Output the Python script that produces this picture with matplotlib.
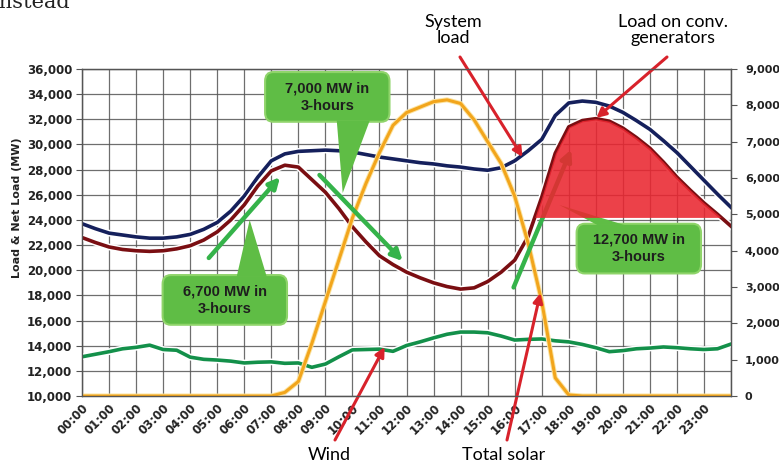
import numpy as np
import matplotlib.pyplot as plt
import matplotlib.patheffects as pe
from matplotlib.patches import FancyBboxPatch, Polygon

# half-hourly readings, 00:00 .. 24:00
hours = np.arange(0, 24.5, 0.5)

system_load = [23700, 23300, 22950, 22800, 22650, 22550, 22550, 22650,   # 0-3.5
               22850, 23250, 23800, 24700, 25900, 27400, 28700, 29250,   # 4-7.5
               29450, 29500, 29550, 29500, 29400, 29200, 29000, 28850,   # 8-11.5
               28700, 28550, 28450, 28300, 28200, 28050, 27950, 28150,   # 12-15.5
               28700, 29500, 30400, 32300, 33300, 33450, 33350, 33050,   # 16-19.5
               32550, 31900, 31200, 30300, 29350, 28250, 27150, 26050,   # 20-23.5
               25000]
net_load = [22600, 22200, 21850, 21650, 21550, 21500, 21550, 21700,
            21950, 22400, 23050, 24000, 25200, 26700, 27900, 28350,
            28200, 27200, 26200, 24900, 23450, 22250, 21150, 20450,
            19850, 19400, 19000, 18700, 18500, 18600, 19100, 19850,
            20800, 22700, 25800, 29300, 31400, 31900, 32050, 31850,
            31300, 30550, 29700, 28600, 27400, 26350, 25350, 24450,
            23500]
# right axis (MW)
solar = [0, 0, 0, 0, 0, 0, 0, 0,
         0, 0, 0, 0, 0, 0, 0, 100,
         400, 1450, 2600, 3750, 4900, 5850, 6700, 7450,
         7800, 7950, 8100, 8150, 8050, 7600, 7000, 6400,
         5500, 4200, 2600, 500, 30, 0, 0, 0,
         0, 0, 0, 0, 0, 0, 0, 0,
         0]
wind = [1080, 1150, 1220, 1300, 1340, 1400, 1280, 1260,
        1070, 1010, 990, 960, 910, 930, 940, 900,
        910, 790, 880, 1080, 1270, 1280, 1290, 1230,
        1390, 1490, 1600, 1700, 1760, 1760, 1740, 1650,
        1540, 1560, 1570, 1520, 1490, 1420, 1330, 1220,
        1250, 1300, 1320, 1350, 1330, 1300, 1280, 1300,
        1430]

tick_labels = ['%02d:00' % h for h in range(24)]
fill_base = 24200
evening_start = 16

net_load = np.array(net_load)

fig = plt.figure(figsize=(7.79, 4.68), dpi=100)
ax = fig.add_axes([0.1053, 0.1538, 0.8331, 0.6988])
ax2 = ax.twinx()

ax.set_xlim(0, 24)
ax.set_ylim(10000, 36000)
ax2.set_ylim(0, 9000)

ax.set_xticks(range(25))
ax.set_xticklabels(tick_labels + [''], rotation=45, ha='right', va='top',
                   rotation_mode='anchor', fontsize=8.5, fontweight='bold',
                   color='#222222')
ax.set_yticks(range(10000, 36001, 2000))
ax.set_yticklabels(['{:,}'.format(v) for v in range(10000, 36001, 2000)],
                   fontsize=8.5, fontweight='bold', color='#222222')
ax2.set_yticks(range(0, 9001, 1000))
ax2.set_yticklabels(['{:,}'.format(v) for v in range(0, 9001, 1000)],
                    fontsize=8, fontweight='bold', color='#222222')
ax.tick_params(axis='y', length=4, color='#555555', pad=3)
ax.tick_params(axis='x', length=0, pad=4)
ax2.tick_params(axis='y', length=4, color='#555555', pad=6)

ax.grid(True, color='#555555', lw=0.9, alpha=0.85)
ax.set_axisbelow(True)
for a in (ax, ax2):
    for s in a.spines.values():
        s.set_color('#555555')
        s.set_linewidth(0.9)

glow = [pe.Stroke(linewidth=4.8, foreground='white'), pe.Normal()]

ax.plot(hours, system_load, color='#15205c', lw=2.6, zorder=3, path_effects=glow)
ax.plot(hours, net_load, color='#7a0e12', lw=2.6, zorder=3, path_effects=glow)
ax.plot(hours, wind, color='#13904a', lw=2.6, zorder=3, transform=ax2.transData,
        path_effects=glow)
ax.plot(hours, solar, color='#f2a51c', lw=2.2, zorder=4, transform=ax2.transData,
        path_effects=[pe.Stroke(linewidth=3.6, foreground='#fbe3a0'), pe.Normal()])

# green ramp arrows
arr_kw = dict(arrowstyle='-|>', color='#35b34a', lw=3.2, mutation_scale=16)
ax.annotate('', xy=(7.39, 27570), xytext=(4.62, 20810), arrowprops=arr_kw, zorder=5)
ax.annotate('', xy=(11.93, 20570), xytext=(8.71, 27730), arrowprops=arr_kw, zorder=5)
ax.annotate('', xy=(18.13, 29800), xytext=(15.92, 18430), arrowprops=arr_kw, zorder=4)

box_fc = '#5fbd45'
box_ec = '#8fd46a'


def callout(cx, cy, text, tri, z=6):
    w, h = 4.6, 3950
    ax.add_patch(FancyBboxPatch((cx - w / 2, cy - h / 2), w, h,
                                boxstyle='round,pad=0,rounding_size=0.3',
                                mutation_aspect=2400, fc=box_fc, ec=box_ec,
                                lw=1.5, zorder=z))
    ax.add_patch(Polygon(tri, closed=True, fc=box_fc, ec='none', zorder=z))
    ax.text(cx, cy, text, ha='center', va='center', fontsize=10.5,
            family='Liberation Sans', fontweight='bold', color='#1e1e1e',
            linespacing=1.3, zorder=z + 1)


callout(9.07, 33780, '7,000 MW in\n3-hours', [(9.42, 31900), (10.64, 31900), (9.64, 26140)])
callout(5.28, 17640, '6,700 MW in\n3-hours', [(5.72, 19500), (6.83, 19500), (6.2, 24000)])
callout(20.59, 21720, '12,700 MW in\n3-hours', [(19.05, 23600), (20.05, 23600), (17.65, 25190)], z=3)

# load on conventional generators above the base level (evening ramp only)
ax.fill_between(hours, net_load, fill_base,
                where=(net_load >= fill_base) & (hours >= evening_start),
                interpolate=True, color='#ea2630', alpha=0.88, lw=0, zorder=4.5)

# red labelled arrows
red_kw = dict(arrowstyle='-|>', color='#d8222b', lw=2.2, mutation_scale=14,
              shrinkA=0, shrinkB=0)
ax.annotate('', xy=(16.29, 29000), xytext=(460, 411), textcoords='figure pixels',
            arrowprops=red_kw, annotation_clip=False, zorder=8)
ax.annotate('', xy=(19.02, 32100), xytext=(667, 411), textcoords='figure pixels',
            arrowprops=red_kw, annotation_clip=False, zorder=8)
ax.annotate('', xy=(11.19, 13900), xytext=(335, 28), textcoords='figure pixels',
            arrowprops=red_kw, annotation_clip=False, zorder=8)
ax.annotate('', xy=(16.95, 18190), xytext=(507, 28), textcoords='figure pixels',
            arrowprops=red_kw, annotation_clip=False, zorder=8)

fig.text(453 / 779, 1 - 30 / 468, 'System\nload', ha='center', va='center',
         fontsize=13, family='Lato', linespacing=0.95)
fig.text(673 / 779, 1 - 30 / 468, 'Load on conv.\ngenerators', ha='center',
         va='center', fontsize=13, family='Lato', linespacing=0.95)
fig.text(329 / 779, 1 - 455 / 468, 'Wind', ha='center', va='center',
         fontsize=13, family='Lato')
fig.text(504 / 779, 1 - 455 / 468, 'Total solar', ha='center', va='center',
         fontsize=13, family='Lato')

fig.text(17 / 779, 1 - 208 / 468, 'Load & Net Load (MW)', rotation=90,
         ha='center', va='center', fontsize=8, fontweight='bold', color='#222222')

# clipped page text above the chart
fig.text(-8 / 779, 1 - 8 / 468, 'instead', ha='left', va='baseline',
         fontsize=15, family='DejaVu Serif', color='#222222')

fig.savefig('out.png', dpi=100)
